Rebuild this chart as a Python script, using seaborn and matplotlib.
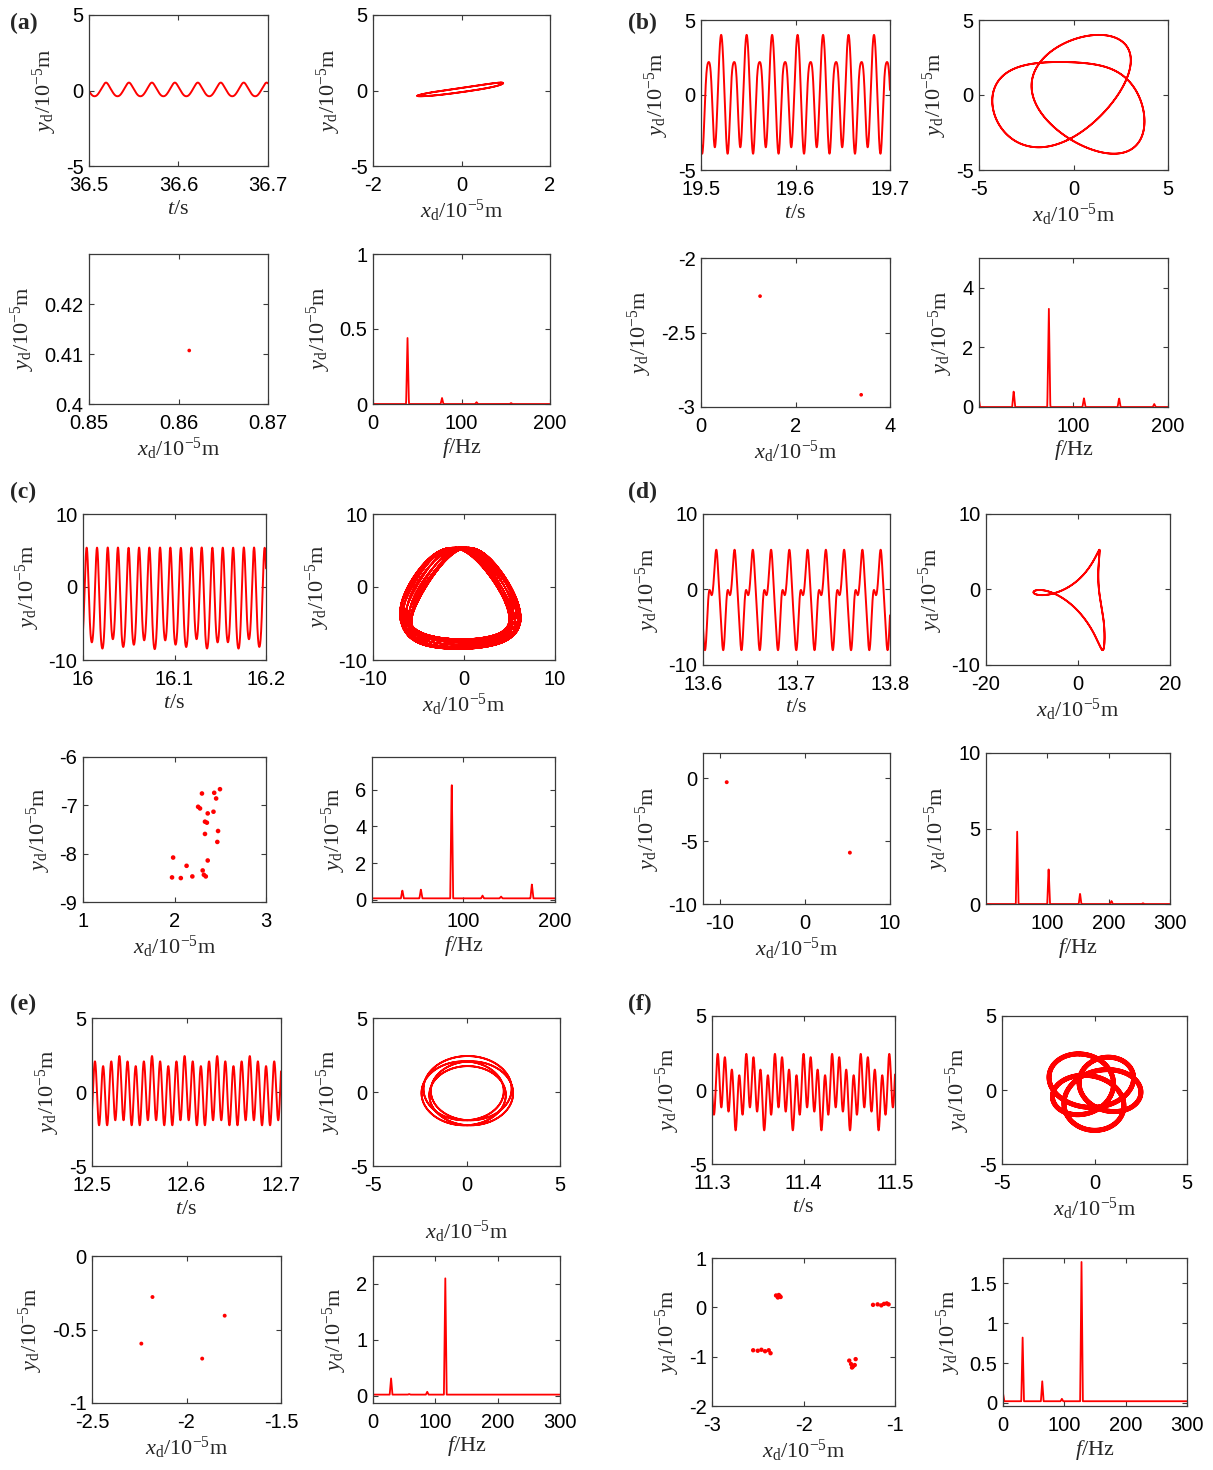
import numpy as np
import pandas as pd
import matplotlib
matplotlib.use("Agg")
import matplotlib.pyplot as plt
from matplotlib.ticker import FormatStrFormatter
import seaborn as sns

# ---------------------------------------------------------------------------
# Harmonic content of the response y_d (and x_d) for each case, in 1e-5 m.
# Frequencies in Hz, phases in rad relative to the reference time t_ref.
# ---------------------------------------------------------------------------

# (a) period-1 motion
a_window = [36.5, 36.7]
a_tref = 36.519
a_freq = [39.0, 78.0, 117.0, 156.0]
a_amp_y = [0.44, 0.04, 0.012, 0.006]
a_pha_y = [0.0, 0.0, 0.0, 0.0]
a_amp_x = [0.97, 0.04, 0.0, 0.0]
a_pha_x = [0.35, 0.0, 0.0, 0.0]
a_mean_x, a_mean_y = -0.06, 0.025
a_poin_x = [0.8612]
a_poin_y = [0.4107]
a_spec_base = 0.0
a_spec_dc = 0.0

# (b) period-2 motion
b_window = [19.5, 19.7]
b_tref = 19.5214
b_freq = [37.1, 74.2, 111.3, 148.4, 185.5]
b_amp_y = [0.55, 3.4, 0.3, 0.3, 0.1]
b_pha_y = [0.4, 0.0, 0.0, 3.1416, 0.0]
b_amp_x = [1.59, 3.104, 0.51, 0.206, 0.0]
b_pha_x = [-1.183, 1.518, 1.22, 0.0, 0.0]
b_mean_x, b_mean_y = 0.106, 0.0
b_poin_x = [1.25, 3.39]
b_poin_y = [-2.256, -2.918]
b_spec_base = 0.0
b_spec_dc = 0.35

# (c) quasi-periodic motion (33.6 Hz + 53.8 Hz = 87.4 Hz)
c_window = [16.0, 16.2]
c_tref = 16.004
c_freq = [33.6, 53.8, 87.4, 121.0, 141.2, 174.8]
c_amp_y = [0.45, 0.49, 6.6, 0.15, 0.10, 0.78]
c_pha_y = [0.0, 3.1416, 0.0, 0.0, 3.1416, 0.0]
c_amp_x = [0.45, 0.49, 5.8, 0.15, 0.10, 0.78]
c_pha_x = [0.0, 0.0, 1.5708, 3.1416, 0.0, -1.5708]
c_mean_x, c_mean_y = -0.4, -2.0
c_poin_x = [2.497, 2.434, 2.300, 2.455, 2.258, 2.279, 2.426, 2.363, 2.333, 2.354, 2.476,
            2.333, 2.468, 1.985, 2.363, 2.132, 2.308, 2.321, 2.342, 2.195, 1.973, 2.069]
c_poin_y = [-6.666, -6.741, -6.755, -6.858, -7.030, -7.064, -7.132, -7.167, -7.338, -7.359, -7.531,
            -7.592, -7.757, -8.080, -8.141, -8.251, -8.347, -8.437, -8.471, -8.471, -8.491, -8.505]
c_spec_base = 0.07
c_spec_dc = 0.0

# (d) period-1 motion with strong super-harmonics
d_window = [13.6, 13.8]
d_tref = 13.6146
d_freq = [51.2, 102.4, 153.6, 204.8, 256.0]
d_amp_y = [4.9, 2.4, 0.7, 0.2, 0.05]
d_pha_y = [0.628, -0.628, 1.466, 0.0, 0.0]
d_amp_x = [6.6, 3.2, 0.7, 0.2, 0.0]
d_pha_x = [-1.117, 1.117, 3.037, 0.0, 0.0]
d_mean_x, d_mean_y = 0.9, -1.1
d_poin_x = [-9.21, 5.28]
d_poin_y = [-0.32, -5.92]
d_spec_base = 0.0
d_spec_dc = 0.0

# (e) period-4 motion
e_window = [12.5, 12.7]
e_tref = 12.529
e_freq = [29.0, 58.0, 87.0, 116.0]
e_amp_y = [0.29, 0.01, 0.05, 2.08]
e_pha_y = [0.0, 0.0, 0.0, 0.0]
e_amp_x = [0.29, 0.01, 0.05, 2.2]
e_pha_x = [1.571, 0.0, 1.571, 1.571]
e_mean_x, e_mean_y = 0.05, 0.0
e_poin_x = [-2.18, -1.798, -2.239, -1.917]
e_poin_y = [-0.279, -0.406, -0.596, -0.698]
e_spec_base = 0.02
e_spec_dc = 0.0

# (f) period-4 motion with scattered Poincaré clusters
f_window = [11.3, 11.5]
f_tref = 11.30623
f_freq = [32.0, 64.0, 96.0, 128.0]
f_amp_y = [0.8, 0.25, 0.03, 1.75]
f_pha_y = [-0.879, 0.93, 0.0, 0.0]
f_amp_x = [0.8, 0.25, 0.03, 1.8]
f_pha_x = [-2.45, 2.50, 1.571, 1.571]
f_mean_x, f_mean_y = 0.0, 0.0
f_poin_x = [-2.30, -2.28, -2.26, -2.25, -2.27, -1.24, -1.19, -1.15, -1.12, -1.09, -1.07,
            -2.55, -2.50, -2.46, -2.42, -2.38, -2.36, -1.50, -1.48, -1.46, -1.44, -1.43, -1.47]
f_poin_y = [0.24, 0.20, 0.23, 0.21, 0.25, 0.05, 0.06, 0.04, 0.07, 0.08, 0.06,
            -0.87, -0.88, -0.86, -0.89, -0.87, -0.93, -1.08, -1.15, -1.20, -1.17, -1.05, -1.22]
f_spec_base = 0.02
f_spec_dc = 0.1

# ---------------------------------------------------------------------------
sns.set_theme(style="white")
plt.rcParams.update({
    "font.family": ["Liberation Sans", "DejaVu Sans"],
    "mathtext.fontset": "custom",
    "mathtext.rm": "Liberation Serif",
    "mathtext.it": "Liberation Serif:italic",
    "mathtext.bf": "Liberation Serif:bold",
    "axes.unicode_minus": False,
    "axes.edgecolor": "#3a3a3a",
    "axes.linewidth": 0.9,
    "axes.facecolor": "white",
    "figure.facecolor": "white",
})

W, H = 1213, 1470
fig = plt.figure(figsize=(W / 100, H / 100), dpi=100)

RED = "#ff0000"
LAB_Y = r"$y_\mathrm{d}/10^{-5}\mathrm{m}$"
LAB_X = r"$x_\mathrm{d}/10^{-5}\mathrm{m}$"
LAB_T = r"$t/\mathrm{s}$"
LAB_F = r"$f/\mathrm{Hz}$"


def add_ax(l, t, r, b):
    return fig.add_axes([l / W, 1 - b / H, (r - l) / W, (b - t) / H])


def style(ax, xlim, ylim, xticks, yticks, xlabel, ylabel, xpad=4):
    ax.set_xlim(*xlim)
    ax.set_ylim(*ylim)
    ax.set_xticks(xticks)
    ax.set_yticks(yticks)
    ax.xaxis.set_major_formatter(FormatStrFormatter("%g"))
    ax.yaxis.set_major_formatter(FormatStrFormatter("%g"))
    ax.tick_params(direction="in", top=True, right=True, bottom=True, left=True,
                   length=3.5, width=0.8, labelsize=14.5, colors="#3a3a3a",
                   labelcolor="black")
    ax.tick_params(axis="x", pad=7)
    ax.tick_params(axis="y", pad=4)
    ax.set_xlabel(xlabel, fontsize=16, labelpad=xpad - 2)
    ax.set_ylabel(ylabel, fontsize=16, labelpad=5)
    for s in ax.spines.values():
        s.set_visible(True)
        s.set_color("#3a3a3a")


def harmonic(t, tref, freqs, amps, phases, mean):
    tt = np.asarray(t)[:, None]
    ff = np.asarray(freqs)[None, :]
    return mean + (np.asarray(amps)[None, :] *
                   np.cos(2 * np.pi * ff * (tt - tref) + np.asarray(phases)[None, :])).sum(axis=1)


def spectrum(fgrid, freqs, amps, base, dc, width):
    s = np.full_like(fgrid, base)
    for fk, ak in zip(list(freqs) + [0.0], list(amps) + [dc]):
        s = s + ak * np.clip(1 - np.abs(fgrid - fk) / width, 0, None)
    return s


def case(boxes, window, tref, freq, ay, py, ax_, px, mx, my, px_pts, py_pts, base, dc,
         lims, orbit_span, orbit_lw, dot_size, tr_xpad=4, spec_width=1.6):
    (tl, tr, bl, br) = boxes
    (ts_ylim, ts_yt, orb_xlim, orb_xt, orb_ylim, orb_yt,
     pc_xlim, pc_xt, pc_ylim, pc_yt, sp_xlim, sp_xt, sp_ylim, sp_yt, ts_xt) = lims

    # time history
    a1 = add_ax(*tl)
    t = np.linspace(window[0], window[1], 3000)
    ts = pd.DataFrame({"t": t, "y": harmonic(t, tref, freq, ay, py, my)})
    sns.lineplot(data=ts, x="t", y="y", ax=a1, color=RED, linewidth=1.4,
                 sort=False, estimator=None, errorbar=None)
    style(a1, window, ts_ylim, ts_xt, ts_yt, LAB_T, LAB_Y)

    # orbit
    a2 = add_ax(*tr)
    to = np.linspace(tref, tref + orbit_span, int(orbit_span * 60000) + 2000)
    orb = pd.DataFrame({"x": harmonic(to, tref, freq, ax_, px, mx),
                        "y": harmonic(to, tref, freq, ay, py, my)})
    sns.lineplot(data=orb, x="x", y="y", ax=a2, color=RED, linewidth=orbit_lw,
                 sort=False, estimator=None, errorbar=None)
    style(a2, orb_xlim, orb_ylim, orb_xt, orb_yt, LAB_X, LAB_Y, xpad=tr_xpad)

    # Poincaré map
    a3 = add_ax(*bl)
    pts = pd.DataFrame({"x": px_pts, "y": py_pts})
    sns.scatterplot(data=pts, x="x", y="y", ax=a3, color=RED, s=dot_size,
                    edgecolor="none", linewidth=0)
    style(a3, pc_xlim, pc_ylim, pc_xt, pc_yt, LAB_X, LAB_Y)

    # amplitude spectrum
    a4 = add_ax(*br)
    fg = np.arange(0.0, sp_xlim[1] + 0.25, 0.25)
    sp = pd.DataFrame({"f": fg, "A": spectrum(fg, freq, ay, base, dc, spec_width)})
    sns.lineplot(data=sp, x="f", y="A", ax=a4, color=RED, linewidth=1.3,
                 sort=False, estimator=None, errorbar=None)
    style(a4, sp_xlim, sp_ylim, sp_xt, sp_yt, LAB_F, LAB_Y)


# (a)
case([(89, 15, 268, 166), (373, 15, 550, 166), (89, 254, 268, 404), (373, 254, 550, 404)],
     a_window, a_tref, a_freq, a_amp_y, a_pha_y, a_amp_x, a_pha_x, a_mean_x, a_mean_y,
     a_poin_x, a_poin_y, a_spec_base, a_spec_dc,
     ((-5, 5), [-5, 0, 5], (-2, 2), [-2, 0, 2], (-5, 5), [-5, 0, 5],
      (0.85, 0.87), [0.85, 0.86, 0.87], (0.4, 0.43), [0.4, 0.41, 0.42],
      (0, 200), [0, 100, 200], (0, 1), [0, 0.5, 1], [36.5, 36.6, 36.7]),
     orbit_span=2 / 39.0, orbit_lw=1.3, dot_size=7)

# (b)
case([(701, 20, 890, 170), (979, 20, 1168, 170), (701, 258, 890, 407), (979, 258, 1168, 407)],
     b_window, b_tref, b_freq, b_amp_y, b_pha_y, b_amp_x, b_pha_x, b_mean_x, b_mean_y,
     b_poin_x, b_poin_y, b_spec_base, b_spec_dc,
     ((-5, 5), [-5, 0, 5], (-5, 5), [-5, 0, 5], (-5, 5), [-5, 0, 5],
      (0, 4), [0, 2, 4], (-3, -2), [-3, -2.5, -2],
      (0.5, 200), [100, 200], (0, 5), [0, 2, 4], [19.5, 19.6, 19.7]),
     orbit_span=2 / 37.1, orbit_lw=1.3, dot_size=7)

# (c)
case([(83, 514, 266, 660), (373, 514, 555, 660), (83, 757, 266, 902), (372, 757, 555, 902)],
     c_window, c_tref, c_freq, c_amp_y, c_pha_y, c_amp_x, c_pha_x, c_mean_x, c_mean_y,
     c_poin_x, c_poin_y, c_spec_base, c_spec_dc,
     ((-10, 10), [-10, 0, 10], (-10, 10), [-10, 0, 10], (-10, 10), [-10, 0, 10],
      (1, 3), [1, 2, 3], (-9, -6), [-9, -8, -7, -6],
      (0.5, 200), [100, 200], (-0.13, 7.8), [0, 2, 4, 6], [16, 16.1, 16.2]),
     orbit_span=0.6, orbit_lw=1.0, dot_size=11)

# (d)
case([(703, 514, 890, 665), (986, 514, 1170, 665), (703, 753, 890, 904), (986, 753, 1170, 904)],
     d_window, d_tref, d_freq, d_amp_y, d_pha_y, d_amp_x, d_pha_x, d_mean_x, d_mean_y,
     d_poin_x, d_poin_y, d_spec_base, d_spec_dc,
     ((-10, 10), [-10, 0, 10], (-20, 20), [-20, 0, 20], (-10, 10), [-10, 0, 10],
      (-12, 10), [-10, 0, 10], (-10, 2), [-10, -5, 0],
      (0.5, 300), [100, 200, 300], (0, 10), [0, 5, 10], [13.6, 13.7, 13.8]),
     orbit_span=2 / 51.2, orbit_lw=1.3, dot_size=8, spec_width=2.2)

# (e)
case([(92, 1018, 281, 1166), (373, 1018, 560, 1166), (92, 1256, 281, 1403), (373, 1256, 560, 1403)],
     e_window, e_tref, e_freq, e_amp_y, e_pha_y, e_amp_x, e_pha_x, e_mean_x, e_mean_y,
     e_poin_x, e_poin_y, e_spec_base, e_spec_dc,
     ((-5, 5), [-5, 0, 5], (-5, 5), [-5, 0, 5], (-5, 5), [-5, 0, 5],
      (-2.5, -1.5), [-2.5, -2, -1.5], (-1, 0), [-1, -0.5, 0],
      (0, 300), [0, 100, 200, 300], (-0.13, 2.5), [0, 1, 2], [12.5, 12.6, 12.7]),
     orbit_span=2 / 29.0, orbit_lw=1.3, dot_size=8, tr_xpad=19, spec_width=2.2)

# (f)
case([(712, 1016, 895, 1164), (1002, 1016, 1187, 1164), (712, 1258, 895, 1406), (1003, 1258, 1187, 1406)],
     f_window, f_tref, f_freq, f_amp_y, f_pha_y, f_amp_x, f_pha_x, f_mean_x, f_mean_y,
     f_poin_x, f_poin_y, f_spec_base, f_spec_dc,
     ((-5, 5), [-5, 0, 5], (-5, 5), [-5, 0, 5], (-5, 5), [-5, 0, 5],
      (-3, -1), [-3, -2, -1], (-2, 1), [-2, -1, 0, 1],
      (0, 300), [0, 100, 200, 300], (-0.04, 1.82), [0, 0.5, 1, 1.5], [11.3, 11.4, 11.5]),
     orbit_span=2 / 32.0, orbit_lw=3.5, dot_size=10, spec_width=2.2)

# panel letters
for lab, x, y in [("(a)", 10, 23), ("(b)", 628, 23), ("(c)", 10, 492),
                  ("(d)", 628, 492), ("(e)", 10, 1004), ("(f)", 628, 1004)]:
    fig.text(x / W, 1 - y / H, lab, fontsize=17, fontweight="bold",
             family="Liberation Serif", va="center", ha="left")

fig.savefig("out.png", dpi=100, facecolor="white")
